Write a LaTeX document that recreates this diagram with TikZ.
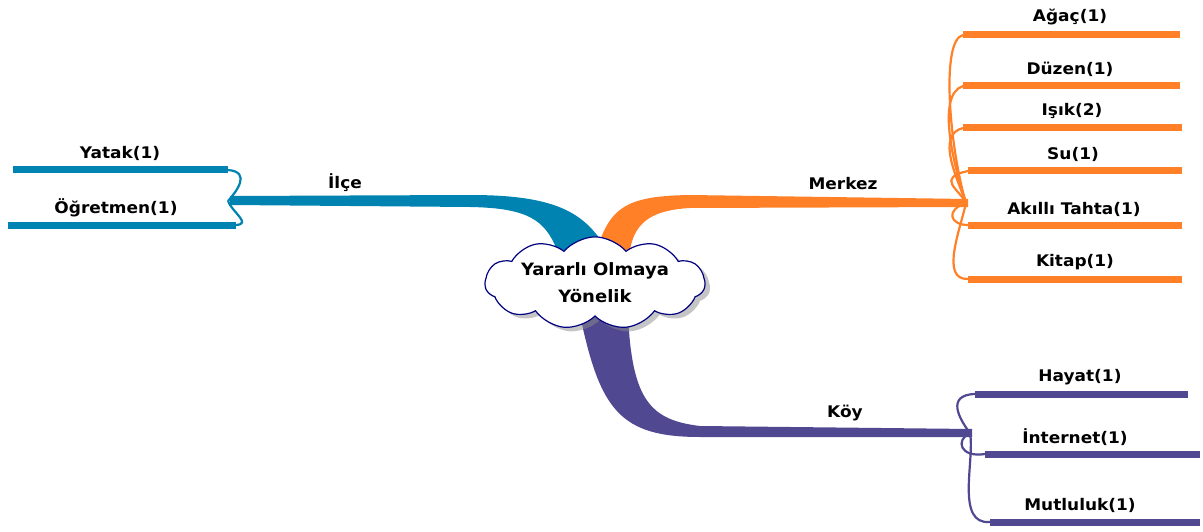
\documentclass[tikz,border=0pt]{standalone}
\usepackage{fontspec}
\setmainfont{DejaVu Sans}[FakeStretch=1.06]
\usetikzlibrary{shapes.symbols,shadows}
\definecolor{tealc}{RGB}{0,131,176}
\definecolor{orangec}{RGB}{255,128,39}
\definecolor{purplec}{RGB}{80,72,144}
\definecolor{navyc}{RGB}{0,0,128}
\tikzset{
  lbl/.style={font=\bfseries\fontsize{16}{18}\selectfont, inner sep=1pt},
  leaf/.style={line width=7pt},
  twig/.style={line width=2.2pt},
}
\begin{document}
\begin{tikzpicture}[x=1pt,y=-1pt]
\useasboundingbox (0,0) rectangle (1203,532);
% ---------- main bands ----------
\fill[tealc] (230,196) -- (470,195) .. controls (555,195) and (585,212) .. (607,250)
  -- (557,250) .. controls (545,220) and (528,208) .. (470,207) -- (230,205) -- cycle;
\fill[orangec] (597,250) .. controls (610,205) and (630,196) .. (690,195) -- (968,199)
  -- (968,207) -- (690,208) .. controls (655,210) and (635,220) .. (630,250) -- cycle;
\fill[purplec] (580,315) .. controls (600,410) and (620,437) .. (700,437) -- (972,437)
  -- (972,429) -- (700,426) .. controls (650,420) and (632,400) .. (628,315) -- cycle;
% ---------- hubs ----------
\coordinate (th) at (228,201);
\coordinate (oh) at (966,203);
\coordinate (ph) at (970,433);
% ---------- teal leaves ----------
\coordinate (yS) at (228,170); \coordinate (yE) at (13,170);
\coordinate (gS) at (236,225); \coordinate (gE) at (8,225);
\draw[tealc,leaf] (yS) -- (yE);
\draw[tealc,leaf] (gS) -- (gE);
\draw[tealc,twig] (th) .. controls (236,192) and (252,172) .. (yS);
\draw[tealc,twig] (th) .. controls (232,212) and (252,224) .. (gS);
% ---------- orange leaves ----------
\coordinate (aS) at (963,35);  \coordinate (aE) at (1180,35);
\coordinate (dS) at (963,86);  \coordinate (dE) at (1180,86);
\coordinate (iS) at (963,128); \coordinate (iE) at (1182,128);
\coordinate (sS) at (968,171); \coordinate (sE) at (1182,171);
\coordinate (kS) at (968,225); \coordinate (kE) at (1182,225);
\coordinate (tS) at (968,279); \coordinate (tE) at (1182,279);
\foreach \s/\e in {aS/aE,dS/dE,iS/iE,sS/sE,kS/kE,tS/tE} \draw[orangec,leaf] (\s) -- (\e);
\draw[orangec,twig] (oh) .. controls (950,150) and (940,40) .. (aS);
\draw[orangec,twig] (oh) .. controls (955,170) and (935,95) .. (dS);
\draw[orangec,twig] (oh) .. controls (958,180) and (935,135) .. (iS);
\draw[orangec,twig] (oh) .. controls (960,190) and (935,178) .. (sS);
\draw[orangec,twig] (oh) .. controls (945,210) and (950,225) .. (kS);
\draw[orangec,twig] (oh) .. controls (960,230) and (940,280) .. (tS);
% ---------- purple leaves ----------
\coordinate (hS) at (975,394); \coordinate (hE) at (1188,394);
\coordinate (nS) at (985,454); \coordinate (nE) at (1200,454);
\coordinate (mS) at (990,522); \coordinate (mE) at (1200,522);
\foreach \s/\e in {hS/hE,nS/nE,mS/mE} \draw[purplec,leaf] (\s) -- (\e);
\draw[purplec,twig] (ph) .. controls (960,420) and (945,395) .. (hS);
\draw[purplec,twig] (ph) .. controls (955,440) and (960,458) .. (nS);
\draw[purplec,twig] (ph) .. controls (975,460) and (955,525) .. (mS);
% ---------- centre ----------
\node[cloud, cloud puffs=11, cloud puff arc=100, cloud ignores aspect, minimum width=220pt, minimum height=68pt,
  draw=navyc, line width=1.2pt, fill=white,
  drop shadow={shadow xshift=5pt, shadow yshift=-4pt, fill=black!45},
  align=center, font=\bfseries\fontsize{17}{27}\selectfont] (root) at (595,283)
  {Yararlı Olmaya\\Yönelik};
% ---------- labels ----------
\node[lbl] (lilce) at (345,183) {İlçe};
\node[lbl] (lmer) at (843,184) {Merkez};
\node[lbl] (lkoy) at (845,413) {Köy};
\node[lbl] (lyat) at (120,153) {Yatak(1)};
\node[lbl] (logr) at (116,208) {Öğretmen(1)};
\node[lbl] (laga) at (1070,17) {Ağaç(1)};
\node[lbl] (lduz) at (1070,69) {Düzen(1)};
\node[lbl] (lisk) at (1072,111) {Işık(2)};
\node[lbl] (lsu) at (1073,154) {Su(1)};
\node[lbl] (lakt) at (1074,209) {Akıllı Tahta(1)};
\node[lbl] (lkit) at (1075,262) {Kitap(1)};
\node[lbl] (lhay) at (1080,377) {Hayat(1)};
\node[lbl] (lint) at (1075,437) {İnternet(1)};
\node[lbl] (lmut) at (1080,505) {Mutluluk(1)};
\end{tikzpicture}
\end{document}
